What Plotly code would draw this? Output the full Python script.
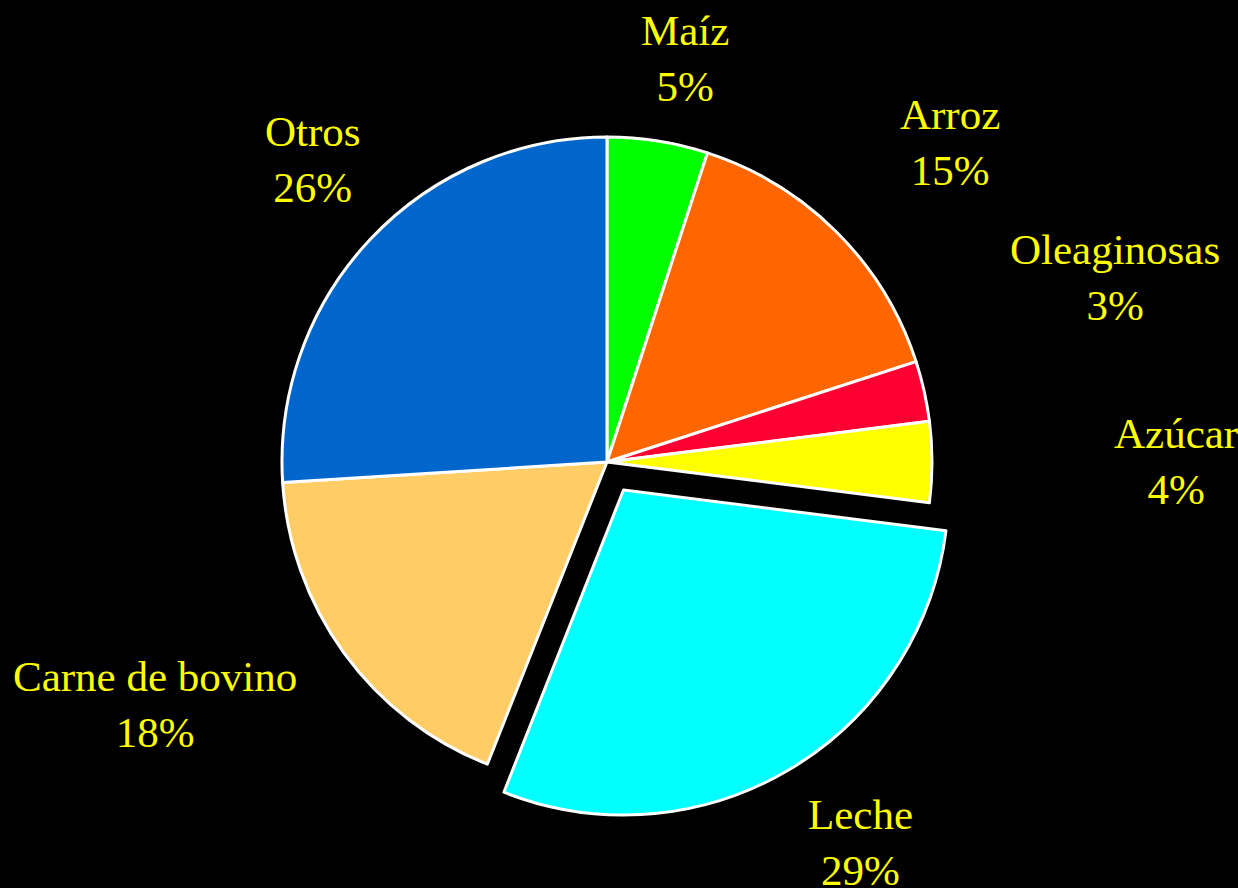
import plotly.graph_objects as go

categories = ["Maíz", "Arroz", "Oleaginosas", "Azúcar", "Leche", "Carne de bovino", "Otros"]
values = [5, 15, 3, 4, 29, 18, 26]
colors = ["#00FF00", "#FF6600", "#FF0033", "#FFFF00", "#00FFFF", "#FFCC66", "#0066CC"]
pulls = [0, 0, 0, 0, 0.1, 0, 0]

W, H = 1238, 888
# label block centres (pixels) - layout only
label_pos = [(685, 58), (950, 142), (1115, 277), (1176, 461), (860, 842), (155, 704), (313, 160)]

fig = go.Figure(go.Pie(
    labels=categories,
    values=values,
    sort=False,
    direction="clockwise",
    rotation=0,
    pull=pulls,
    marker=dict(colors=colors, line=dict(color="white", width=3)),
    textinfo="none",
    showlegend=False,
    domain=dict(x=[0.2015, 0.7791], y=[0.0771, 0.8823]),
    hoverinfo="label+percent",
))

total = sum(values)
for cat, v, (px, py) in zip(categories, values, label_pos):
    fig.add_annotation(
        x=px / W, y=1 - py / H, xref="paper", yref="paper",
        text=f"{cat}<br>{v / total * 100:.0f}%",
        showarrow=False, xanchor="center", yanchor="middle",
        font=dict(family="Liberation Serif", size=43, color="#FFFF00"),
    )

fig.update_layout(
    width=W, height=H,
    paper_bgcolor="black", plot_bgcolor="black",
    margin=dict(l=0, r=0, t=0, b=0),
)

fig.write_html(
    "out.html",
    config={"displayModeBar": False},
    post_script="document.body.style.margin='0';document.body.style.background='black';",
)
